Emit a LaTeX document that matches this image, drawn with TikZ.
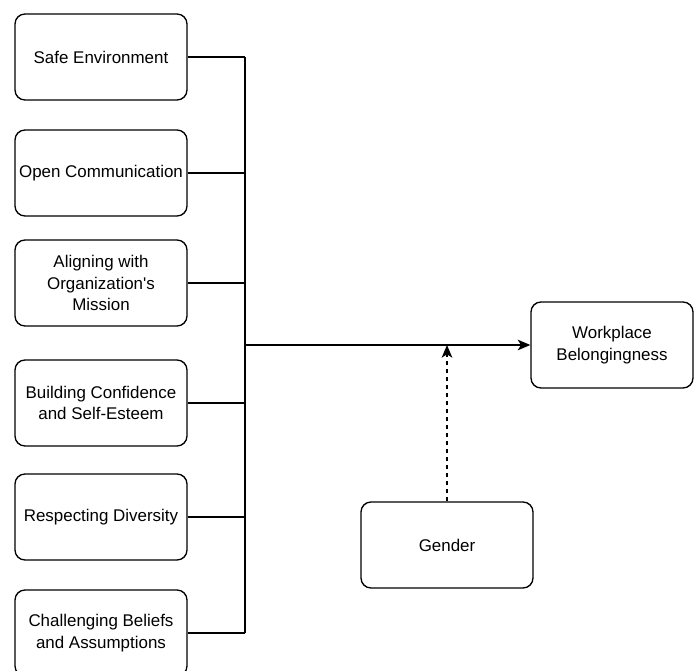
\documentclass[tikz,border=0pt]{standalone}
\usepackage{fontspec}
\setmainfont{Liberation Sans}
\usetikzlibrary{arrows.meta,positioning,calc}
\tikzset{every picture/.style={line width=1pt}}
\tikzset{
    factor/.style={draw, rounded corners=7.5pt, align=center,
        minimum width=129pt, minimum height=64.5pt, inner sep=1pt,
        font=\fontsize{12.7}{16.3}\selectfont},
    link/.style={draw, line width=1pt}
}

\begin{document}
\begin{tikzpicture}[x=0.75pt, y=-0.75pt]
    \useasboundingbox (0,0) rectangle (694,671);

    % Left factors
    \node[factor] (safe)    at (101,57)  {Safe Environment};
    \node[factor] (open)    at (101,173) {Open Communication};
    \node[factor] (mission) at (101,283) {Aligning with\\Organization\textquotesingle s\\Mission};
    \node[factor] (conf)    at (101,403) {Building Confidence\\and Self-Esteem};
    \node[factor] (divers)  at (101,517) {Respecting Diversity};
    \node[factor] (beliefs) at (101,633) {Challenging Beliefs\\and Assumptions};

    % Outcome and moderator
    \node[factor, minimum width=121.5pt] (belong) at (612,345) {Workplace\\Belongingness};
    \node[factor] (gender) at (447,545) {Gender};

    % Junction bar
    \coordinate (top) at (245,57);
    \coordinate (bot) at (245,633);
    \coordinate (mid) at (245,345);
    \draw[link] (top) -- (bot);
    \foreach \n in {safe,open,mission,conf,divers,beliefs}
        \draw[link] (\n.east) -- (\n.east -| top);

    % Main effect
    \draw[link, -{Stealth[length=9.5pt,width=8pt,inset=2.5pt]}] (mid) -- (belong.west);

    % Moderation
    \draw[link, dash pattern=on 3pt off 3pt, -{Stealth[length=9.5pt,width=8pt,inset=2.5pt]}] (gender.north) -- (gender.north |- mid);
\end{tikzpicture}
\end{document}
